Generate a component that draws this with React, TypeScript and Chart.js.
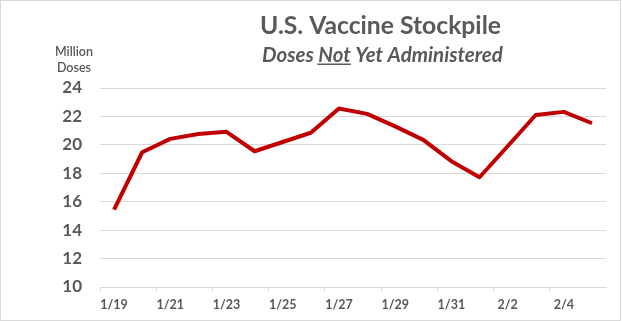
import React, { useEffect, useRef } from "react";
import { Chart, registerables } from "chart.js";

Chart.register(...registerables);

const dates = [
  "1/19", "1/20", "1/21", "1/22", "1/23", "1/24", "1/25", "1/26", "1/27",
  "1/28", "1/29", "1/30", "1/31", "2/1", "2/2", "2/3", "2/4", "2/5",
];
const stockpile = [
  15.44, 19.48, 20.42, 20.77, 20.92, 19.55, 20.2, 20.85, 22.56,
  22.18, 21.3, 20.35, 18.85, 17.72, 19.9, 22.1, 22.32, 21.52,
];
const yMin = 10;
const yMax = 24;
const yStep = 2;
const titleText = "U.S. Vaccine Stockpile";
const subtitleParts = ["Doses ", "Not", " Yet Administered"];
const unitLines = ["Million", "Doses"];

const FONT = "Lato, 'Open Sans', 'Liberation Sans', sans-serif";
const TEXT = "#595959";
const GRID = "#d9d9d9";

function fitSize(ctx: CanvasRenderingContext2D, text: string, style: string, target: number) {
  ctx.font = `${style} 20px ${FONT}`;
  const w = ctx.measureText(text).width;
  return (20 * target) / w;
}

const titlePlugin = {
  id: "customTitles",
  afterDraw(chart: any) {
    const ctx: CanvasRenderingContext2D = chart.ctx;
    ctx.save();
    ctx.fillStyle = TEXT;
    ctx.textBaseline = "alphabetic";
    // main title
    const tSize = fitSize(ctx, titleText, "bold", 241);
    ctx.font = `bold ${tSize}px ${FONT}`;
    ctx.textAlign = "center";
    ctx.fillText(titleText, 380.5, 34);
    // subtitle with underlined "Not"
    const full = subtitleParts.join("");
    const sSize = fitSize(ctx, full, "italic bold", 241);
    ctx.font = `italic bold ${sSize}px ${FONT}`;
    ctx.textAlign = "left";
    let x = 262;
    subtitleParts.forEach((p, i) => {
      const w = ctx.measureText(p).width;
      ctx.fillText(p, x, 62);
      if (i === 1) {
        ctx.fillRect(x - 1, 63.5, w + 1, 1.5);
      }
      x += w;
    });
    // unit label
    ctx.font = `600 12.5px ${FONT}`;
    ctx.textAlign = "center";
    ctx.fillText(unitLines[0], 74, 56);
    ctx.fillText(unitLines[1], 74, 72);
    ctx.restore();
  },
};

export default function App() {
  const ref = useRef<HTMLCanvasElement>(null);
  useEffect(() => {
    if (!ref.current) return;
    const chart = new Chart(ref.current, {
      type: "line",
      data: {
        labels: dates,
        datasets: [
          {
            data: stockpile,
            borderColor: "#C00000",
            backgroundColor: "#C00000",
            borderWidth: 4,
            pointRadius: 0,
            tension: 0,
            borderJoinStyle: "round",
          },
        ],
      },
      options: {
        animation: false,
        responsive: false,
        maintainAspectRatio: false,
        layout: { padding: { top: 88, right: 16, left: 0, bottom: 0 } },
        plugins: { legend: { display: false }, tooltip: { enabled: false }, title: { display: false } },
        scales: {
          x: {
            type: "category",
            offset: true,
            grid: {
              offset: true,
              drawOnChartArea: false,
              drawTicks: true,
              tickLength: 5,
              color: (c: any) => (c.index % 2 === 0 ? GRID : "rgba(0,0,0,0)"),
            },
            border: { display: true, color: GRID },
            ticks: {
              autoSkip: false,
              maxRotation: 0,
              minRotation: 0,
              padding: 5,
              color: TEXT,
              font: { family: FONT, size: 12.5, weight: "bold" },
              callback: (_v: any, i: number) => (i % 2 === 0 ? dates[i] : ""),
            },
            afterFit: (s: any) => {
              s.height = 34;
            },
          },
          y: {
            min: yMin,
            max: yMax,
            grid: { color: GRID, drawTicks: false },
            border: { display: false },
            ticks: {
              stepSize: yStep,
              padding: 18,
              color: TEXT,
              font: { family: FONT, size: 17, weight: "bold" },
            },
            afterFit: (s: any) => {
              s.width = 100;
            },
          },
        },
      },
      plugins: [titlePlugin],
    });
    return () => chart.destroy();
  }, []);
  return (
    <div style={{ position: "absolute", left: 0, top: 0, width: 622, height: 321, background: "#fff" }}>
      <canvas ref={ref} width={622} height={321} style={{ display: "block" }} />
      <div
        style={{
          position: "absolute",
          left: 0,
          top: 0,
          width: 621,
          height: 321,
          boxSizing: "border-box",
          border: `1px solid ${GRID}`,
          pointerEvents: "none",
        }}
      />
    </div>
  );
}
